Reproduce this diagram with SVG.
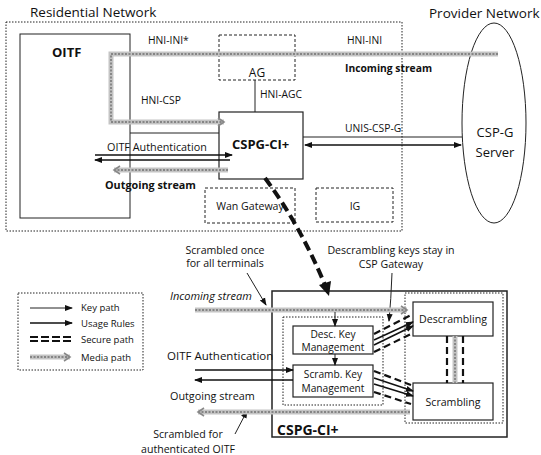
<svg xmlns="http://www.w3.org/2000/svg" width="541" height="455" viewBox="0 0 541 455">
<style>
text{font-family:"Open Sans","Noto Sans","Liberation Sans",sans-serif;fill:#111}
.t{font-size:13.5px}
.s{font-size:10.3px}
.l{font-size:9.5px}
.m{font-size:10.6px}
.b{font-weight:bold}
.i{font-style:italic}
.dot{fill:none;stroke:#222;stroke-width:1;stroke-dasharray:1.5 1.5}
.dash{fill:none;stroke:#222;stroke-width:1;stroke-dasharray:3 2}
.box{fill:#fff;stroke:#222;stroke-width:1.2}
.thin{fill:none;stroke:#222;stroke-width:1}
.key{fill:none;stroke:#111;stroke-width:1.6}
.mb{fill:none;stroke:#c4c4c4;stroke-width:5}
.mt{fill:none;stroke:#707070;stroke-width:1.4;stroke-dasharray:2 1.5}
.sec{fill:none;stroke:#111;stroke-width:2.2;stroke-dasharray:7 4}
.big{fill:none;stroke:#111;stroke-width:4;stroke-dasharray:10 5}
</style>
<defs>
<marker id="ah" markerWidth="8" markerHeight="8" refX="7" refY="4" orient="auto-start-reverse" markerUnits="userSpaceOnUse"><path d="M0,1 L8,4 L0,7 z" fill="#111"/></marker>
<marker id="mh" markerWidth="9" markerHeight="10" refX="7" refY="5" orient="auto" markerUnits="userSpaceOnUse"><path d="M1,1 L7,5 L1,9" fill="none" stroke="#888" stroke-width="1.6"/></marker>
</defs>

<g id="residential-network">
<rect class="dot" x="6" y="22" width="396" height="209"/>
<text class="t" x="30" y="17">Residential Network</text>
</g>
<g id="provider-network">
<text class="t" x="429" y="18">Provider Network</text>
</g>
<g id="csp-g-server">
<ellipse class="thin" cx="494" cy="123" rx="32" ry="100"/>
<text font-size="13" x="495" y="137" text-anchor="middle">CSP-G</text>
<text font-size="13" x="495" y="157" text-anchor="middle">Server</text>
</g>
<g id="oitf">
<rect class="thin" x="20" y="34" width="110" height="184" stroke="#333"/>
<text class="b" font-size="13" x="52" y="57">OITF</text>
</g>
<g id="ag">
<rect class="dash" x="219" y="35" width="76" height="45"/>
<text font-size="12" x="257" y="77" text-anchor="middle">AG</text>
</g>
<g id="cspg-top">
<rect class="box" x="219" y="112" width="84" height="67"/>
<text class="b" font-size="13" x="232" y="149">CSPG-CI+</text>
</g>
<g id="wan-gateway">
<rect class="dash" x="205" y="188" width="90" height="35"/>
<text class="m" x="250" y="210" text-anchor="middle">Wan Gateway</text>
</g>
<g id="ig">
<rect class="dash" x="316" y="188" width="77" height="34"/>
<text class="m" x="355" y="210" text-anchor="middle">IG</text>
</g>

<g id="legend">
<rect class="dot" x="18" y="293" width="125" height="77"/>
<path class="thin" d="M30,308 L72,308" marker-end="url(#ah)"/>
<text class="l" x="81" y="311">Key path</text>
<path class="key" d="M30,323 L72,323" marker-end="url(#ah)"/>
<text class="l" x="81" y="327">Usage Rules</text>
<path fill="none" stroke="#111" stroke-width="1.8" stroke-dasharray="8 3" d="M30,337 L72,337 M30,341 L72,341"/>
<text class="l" x="81" y="343">Secure path</text>
<path class="mb" d="M30,357 L70,357"/>
<path class="mt" d="M30,357 L70,357" marker-end="url(#mh)"/>
<text class="l" x="81" y="361">Media path</text>
</g>

<g id="cspg-bottom">
<rect fill="none" stroke="#222" stroke-width="1.5" x="272" y="291" width="235" height="146"/>
<text class="b" font-size="14" x="277" y="435">CSPG-CI+</text>
</g>
<g id="key-management-area">
<rect class="dot" x="283" y="317" width="100" height="88"/>
</g>
<g id="desc-key-management">
<rect class="box" x="293" y="326" width="80" height="28"/>
<text font-size="10.2" x="333" y="338" text-anchor="middle">Desc. Key</text>
<text font-size="10.2" x="333" y="351" text-anchor="middle">Management</text>
</g>
<g id="scramb-key-management">
<rect class="box" x="293" y="365" width="80" height="32"/>
<text font-size="10.2" x="333" y="378" text-anchor="middle">Scramb. Key</text>
<text font-size="10.2" x="333" y="392" text-anchor="middle">Management</text>
</g>
<g id="secure-area">
<rect class="dot" x="405" y="293" width="98" height="130"/>
</g>
<g id="descrambling">
<rect class="box" x="413" y="302" width="80" height="34"/>
<text class="m" x="453" y="323" text-anchor="middle">Descrambling</text>
</g>
<g id="scrambling">
<rect class="box" x="413" y="383" width="80" height="37"/>
<text class="m" x="453" y="406" text-anchor="middle">Scrambling</text>
</g>

<g id="connectors">
<path class="mb" d="M498,54 L111,54 L111,122 L224,122"/>
<path class="mt" d="M498,54 L111,54 L111,122 L224,122" marker-end="url(#mh)"/>
<path class="mb" d="M228,170 L114,170"/>
<path class="mt" d="M228,170 L114,170" marker-end="url(#mh)"/>
<path class="thin" d="M255,80 L255,112"/>
<path class="thin" d="M130,133 L219,133"/>
<path class="key" d="M95,155 L232,155" marker-end="url(#ah)"/>
<path class="key" d="M230,160 L95,160" marker-end="url(#ah)"/>
<path class="thin" d="M303,137 L462,137"/>
<path class="key" d="M305,145 L461,145" marker-start="url(#ah)" marker-end="url(#ah)"/>
<path class="big" d="M265,178 Q300,225 325,285"/>
<polygon points="329,296 331,281 319,285" fill="#111"/>
<path class="thin" d="M247,273 L266,305" marker-end="url(#ah)"/>
<path class="thin" d="M392,273 Q391,300 389,321" marker-end="url(#ah)"/>
<path class="thin" d="M235,434 L247,411" marker-end="url(#ah)"/>
<path class="mb" d="M195,310 L407,310"/>
<path class="mt" d="M195,310 L407,310" marker-end="url(#mh)"/>
<path class="mb" d="M410,412 L198,412"/>
<path class="mt" d="M410,412 L198,412" marker-end="url(#mh)"/>
<path class="key" d="M195,370 L293,370" marker-end="url(#ah)"/>
<path class="key" d="M293,380 L195,380" marker-end="url(#ah)"/>
<path class="thin" d="M335,312 L335,326" marker-end="url(#ah)"/>
<path class="thin" d="M335,354 L335,365" marker-end="url(#ah)"/>
<path class="sec" d="M374,334 L413,314"/>
<path class="key" d="M374,340 L413,322" marker-end="url(#ah)"/>
<path class="key" d="M374,345 L413,326" marker-end="url(#ah)"/>
<path class="sec" d="M374,352 L413,333"/>
<path class="sec" d="M374,371 L411,385"/>
<path class="key" d="M374,378 L413,391" marker-end="url(#ah)"/>
<path class="key" d="M374,384 L413,396" marker-end="url(#ah)"/>
<path class="sec" d="M374,392 L411,404"/>
<path class="sec" d="M447,336 L447,383 M463,336 L463,383"/>
<path class="mb" d="M455,336 L455,383" stroke-width="4"/>
<path class="mt" d="M455,336 L455,383"/>
</g>

<g id="labels">
<text class="s" x="148" y="44">HNI-INI*</text>
<text class="s" x="347" y="44">HNI-INI</text>
<text class="s b" font-size="10.6" x="345" y="72">Incoming stream</text>
<text class="s" x="260" y="98">HNI-AGC</text>
<text class="s" x="141" y="104">HNI-CSP</text>
<text font-size="10.8" x="107" y="151">OITF Authentication</text>
<text class="s" x="345" y="132">UNIS-CSP-G</text>
<text class="b" font-size="10.8" x="105" y="189">Outgoing stream</text>
<text class="m" x="225" y="254" text-anchor="middle">Scrambled once</text>
<text class="m" x="225" y="267" text-anchor="middle">for all terminals</text>
<text class="m" x="391" y="254" text-anchor="middle">Descrambling keys stay in</text>
<text class="m" x="391" y="268" text-anchor="middle">CSP Gateway</text>
<text class="i" font-size="11" x="170" y="300">Incoming stream</text>
<text font-size="11.5" x="167" y="360">OITF Authentication</text>
<text font-size="10.8" x="170" y="400">Outgoing stream</text>
<text class="m" x="188" y="438" text-anchor="middle">Scrambled for</text>
<text class="m" x="188" y="453" text-anchor="middle">authenticated OITF</text>
</g>
</svg>
